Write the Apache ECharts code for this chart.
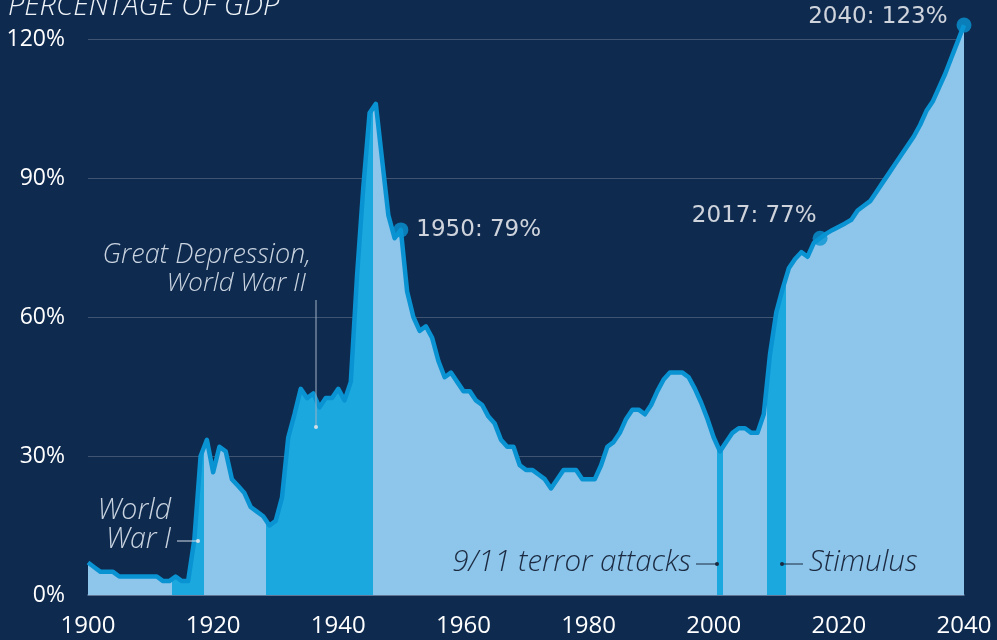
<!DOCTYPE html>
<html>
<head>
<meta charset="utf-8">
<script src="https://cdn.jsdelivr.net/npm/echarts@6/dist/echarts.min.js"></script>
<style>
  html, body { margin: 0; padding: 0; background: #0f2a4f; }
  #chart { width: 997px; height: 640px; }
</style>
</head>
<body>
<div id="chart"></div>
<script>
// ---- Data ----
const startYear = 1900;
const debtPct = [
  7, 6, 5, 5, 5, 4, 4, 4, 4, 4,            // 1900-1909
  4, 4, 3, 3, 4, 3, 3, 12, 30, 33.5,       // 1910-1919
  26.5, 32, 31, 25, 23.5, 22, 19, 18, 17, 15, // 1920-1929
  16, 21, 34, 39, 44.5, 42.5, 43.5, 40.5, 42.5, 42.5, // 1930-1939
  44.5, 42, 46, 69, 88, 104, 106, 94, 82, 77, // 1940-1949
  78.8, 65.5, 60, 57, 58, 55.5, 50.5, 47, 48, 46, // 1950-1959
  44, 44, 42, 41, 38.5, 37, 33.5, 32, 32, 28, // 1960-1969
  27, 27, 26, 25, 23, 25, 27, 27, 27, 25,    // 1970-1979
  25, 25, 28, 32, 33, 35, 38, 40, 40, 39,    // 1980-1989
  41, 44, 46.5, 48, 48, 48, 47, 44.5, 41.5, 38, // 1990-1999
  34, 31, 33, 35, 36, 36, 35, 35, 39, 52,    // 2000-2009
  61, 66, 70.5, 72.5, 74, 73, 76, 77, 78, 78.8, // 2010-2019
  79.5, 80.2, 81, 83, 84, 85, 87, 89, 91, 93, // 2020-2029
  95, 97, 99, 101.5, 104.5, 106.5, 109.5, 112.5, 116, 119.5, // 2030-2039
  123                                        // 2040
];
const years = debtPct.map((v, i) => startYear + i);

// highlighted periods: [from, to] in years (bar-edge halves)
const highlightFrom = [1913.5, 1928.5, 2000.5, 2008.5];
const highlightTo   = [1918.5, 1945.5, 2001.5, 2011.5];

const markerYears  = [1950, 2017, 2040];
const markerLabels = ['1950: 79%', '2017: 77%', '2040: 123%'];

const xTicks = { min: 1900, max: 2040, step: 20 };
const yTicks = { min: 0, max: 120, step: 30 };

// ---- Styles ----
const BG = '#0f2a4f';
const LIGHT = '#8ec5eb';
const DARK = '#1ba8de';
const LINE = '#0993d2';
const FONT = '"Open Sans", "Noto Sans", sans-serif';
const NUMFONT = '"DejaVu Sans", "Open Sans", sans-serif';
const anno = size => 'italic 300 ' + size + 'px ' + FONT;

const seriesData = years.map((y, i) => [y, debtPct[i]]);
const markerData = markerYears.map(y => [y, debtPct[y - startYear]]);

const labelCfg = [
  { position: 'right', distance: 8 },
  { position: [4, -15], align: 'right', verticalAlign: 'middle' },
  { position: 'left', distance: 9, offset: [0, -8] }
];

const chart = echarts.init(document.getElementById('chart'), null, { renderer: 'canvas' });

chart.setOption({
  backgroundColor: BG,
  animation: false,
  grid: { left: 88, right: 33, top: 39, bottom: 45 },
  xAxis: {
    type: 'value',
    min: xTicks.min, max: xTicks.max, interval: xTicks.step,
    axisLine: { show: true, lineStyle: { color: '#6b809e', width: 1.5 } },
    axisTick: { show: false },
    splitLine: { show: false },
    axisLabel: { color: '#ffffff', fontSize: 24, fontFamily: FONT, margin: 19, formatter: v => String(v) }
  },
  yAxis: {
    type: 'value',
    min: yTicks.min, max: yTicks.max, interval: yTicks.step,
    axisLine: { show: false },
    axisTick: { show: false },
    splitLine: { show: true, lineStyle: { color: 'rgba(255,255,255,0.2)', width: 1 } },
    axisLabel: { color: '#ffffff', fontSize: 23, fontFamily: FONT, margin: 23, formatter: '{value}%' }
  },
  visualMap: {
    type: 'piecewise',
    show: false,
    dimension: 0,
    seriesIndex: 0,
    pieces: highlightFrom.map((f, i) => ({ gte: f, lt: highlightTo[i], color: DARK })),
    outOfRange: { color: LIGHT }
  },
  series: [
    {
      type: 'line',
      data: seriesData,
      showSymbol: false,
      symbol: 'none',
      clip: false,
      lineStyle: { color: LINE, width: 4.5, join: 'round' },
      areaStyle: { opacity: 1 },
      z: 2
    },
    {
      type: 'scatter',
      clip: false,
      data: markerData.map((d, i) => ({
        value: d,
        label: Object.assign({
          show: true,
          formatter: markerLabels[i],
          color: '#ffffff',
          fontSize: 23,
          fontFamily: NUMFONT
        }, labelCfg[i])
      })),
      symbol: 'circle',
      symbolSize: 15,
      itemStyle: { color: LINE },
      z: 5
    }
  ],
  graphic: [
    { type: 'text', x: 8, y: 7, z: 10,
      style: { text: 'PERCENTAGE OF GDP', fill: '#eef3f8', font: anno(29), align: 'left', verticalAlign: 'middle' } },

    { type: 'text', x: 311, y: 255, z: 10,
      style: { text: 'Great Depression,', fill: '#c9d4e0', font: anno(27), align: 'right', verticalAlign: 'middle' } },
    { type: 'text', x: 306, y: 284, z: 10,
      style: { text: 'World War II', fill: '#c9d4e0', font: anno(26), align: 'right', verticalAlign: 'middle' } },
    { type: 'line', z: 10, shape: { x1: 316, y1: 300, x2: 316, y2: 427 }, style: { stroke: '#9fb0c4', lineWidth: 1 } },
    { type: 'circle', z: 10, shape: { cx: 316, cy: 427, r: 2 }, style: { fill: '#d4dde7' } },

    { type: 'text', x: 171, y: 511, z: 10,
      style: { text: 'World', fill: '#c9d4e0', font: anno(28.5), align: 'right', verticalAlign: 'middle' } },
    { type: 'text', x: 171, y: 540, z: 10,
      style: { text: 'War I', fill: '#c9d4e0', font: anno(28.5), align: 'right', verticalAlign: 'middle' } },
    { type: 'line', z: 10, shape: { x1: 177, y1: 541, x2: 197, y2: 541 }, style: { stroke: '#d4dde7', lineWidth: 1 } },
    { type: 'circle', z: 10, shape: { cx: 198, cy: 541, r: 2 }, style: { fill: '#d4dde7' } },

    { type: 'text', x: 691, y: 563, z: 10,
      style: { text: '9/11 terror attacks', fill: '#1b2a40', font: anno(29.5), align: 'right', verticalAlign: 'middle' } },
    { type: 'line', z: 10, shape: { x1: 696, y1: 564, x2: 717, y2: 564 }, style: { stroke: '#1b2a40', lineWidth: 1 } },
    { type: 'circle', z: 10, shape: { cx: 717, cy: 564, r: 2 }, style: { fill: '#1b2a40' } },

    { type: 'text', x: 809, y: 563, z: 10,
      style: { text: 'Stimulus', fill: '#1b2a40', font: anno(29.5), align: 'left', verticalAlign: 'middle' } },
    { type: 'line', z: 10, shape: { x1: 782, y1: 564, x2: 803, y2: 564 }, style: { stroke: '#1b2a40', lineWidth: 1 } },
    { type: 'circle', z: 10, shape: { cx: 782, cy: 564, r: 2 }, style: { fill: '#1b2a40' } }
  ]
});
</script>
</body>
</html>
